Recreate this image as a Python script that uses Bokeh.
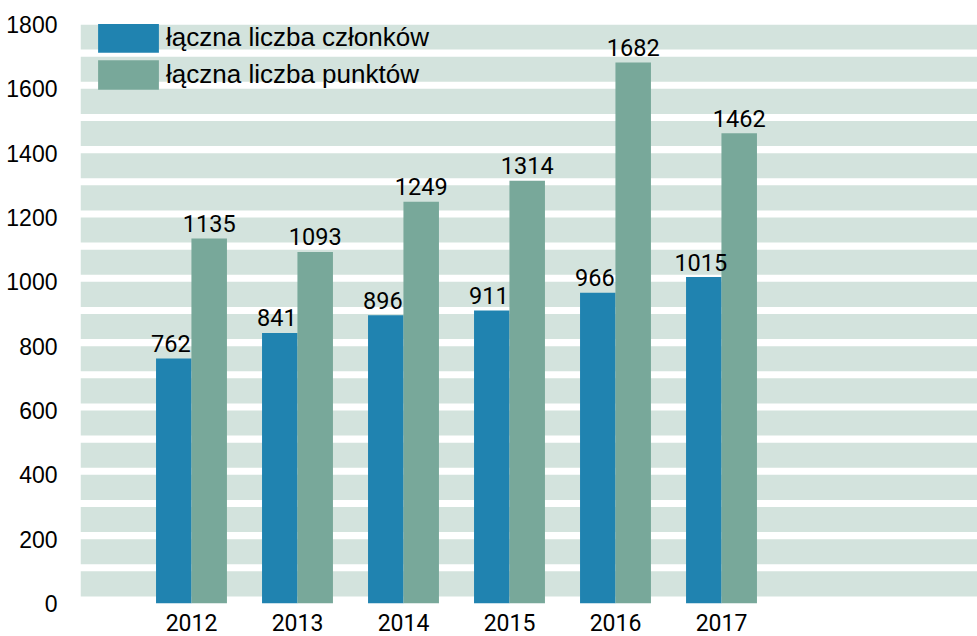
from bokeh.plotting import figure
from bokeh.models import ColumnDataSource, FixedTicker, BoxAnnotation, Legend, LegendItem
from bokeh.core.properties import value
from bokeh.embed import file_html
from bokeh.resources import INLINE

years = ["2012", "2013", "2014", "2015", "2016", "2017"]
members = [762, 841, 896, 911, 966, 1015]
points = [1135, 1093, 1249, 1314, 1682, 1462]
y_ticks = [0, 200, 400, 600, 800, 1000, 1200, 1400, 1600, 1800]
series_names = ["łączna liczba członków", "łączna liczba punktów"]

BLUE = "#2083b0"
GREEN = "#78a89a"
BAND = "#d3e3dd"

xs = list(range(len(years)))
off = 0.167
bw = 0.335

src = ColumnDataSource(dict(
    xb=[x - off for x in xs], xg=[x + off for x in xs],
    m=members, pt=points,
    mt=[str(v) for v in members], ptt=[str(v) for v in points],
))

p = figure(width=977, height=636, output_backend="svg", toolbar_location=None,
           x_range=(-1.047, 7.415), y_range=(0, 1800),
           min_border_left=80, min_border_right=0, min_border_top=24, min_border_bottom=33)
p.outline_line_color = None
p.xgrid.visible = False
p.ygrid.visible = False
p.background_fill_color = "white"

# background stripes
for k in range(0, 1800, 100):
    p.add_layout(BoxAnnotation(bottom=k + 22, top=k + 100, fill_color=BAND, fill_alpha=1.0,
                               line_alpha=0, level="underlay"))

rb = p.vbar(x="xb", top="m", width=bw, bottom=0, source=src, fill_color=BLUE, line_color=None)
rg = p.vbar(x="xg", top="pt", width=bw, bottom=0, source=src, fill_color=GREEN, line_color=None)

for xcol, ycol, tcol, xo in [("xb", "m", "mt", -3), ("xg", "pt", "ptt", 0)]:
    p.text(x=xcol, y=ycol, text=tcol, source=src, text_align="center", text_baseline="alphabetic",
           x_offset=xo, y_offset=-15, text_font=value("Roboto"), text_font_size="23.5px",
           text_color="black")

p.yaxis.ticker = FixedTicker(ticks=y_ticks)
p.yaxis.axis_line_color = None
p.yaxis.major_tick_line_color = None
p.yaxis.minor_tick_line_color = None
p.yaxis.major_label_standoff = 17
p.yaxis.major_label_text_font = "Liberation Sans"
p.yaxis.major_label_text_font_size = "23px"
p.yaxis.major_label_text_color = "black"

p.xaxis.ticker = FixedTicker(ticks=xs)
p.xaxis.major_label_overrides = {x: y for x, y in zip(xs, years)}
p.xaxis.axis_line_color = None
p.xaxis.major_tick_line_color = None
p.xaxis.minor_tick_line_color = None
p.xaxis.major_label_standoff = 4
p.xaxis.major_label_text_font = "Roboto"
p.xaxis.major_label_text_font_size = "23px"
p.xaxis.major_label_text_color = "black"

legend = Legend(items=[LegendItem(label=series_names[0], renderers=[rb]),
                       LegendItem(label=series_names[1], renderers=[rg])],
                location=(10, 510), orientation="vertical",
                glyph_width=76, glyph_height=37, label_height=37, spacing=-2, label_standoff=0,
                padding=0, margin=0, background_fill_alpha=0, border_line_alpha=0,
                label_text_font="Liberation Sans", label_text_font_size="26px",
                label_text_color="black")
p.add_layout(legend)

open("out.html", "w").write(file_html(p, INLINE))
